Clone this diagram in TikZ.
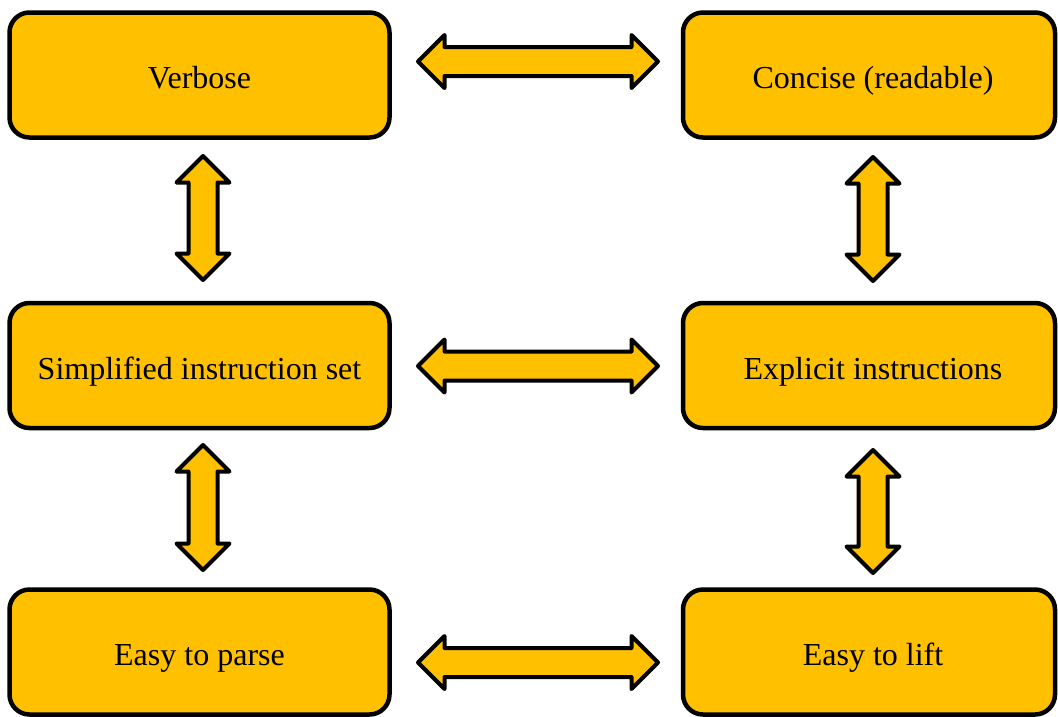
\documentclass[tikz,border=0pt]{standalone}
\usepackage{fontspec}
\setmainfont{Liberation Serif}
\usetikzlibrary{shapes.arrows}
\definecolor{gold}{HTML}{FFC000}

\begin{document}
\begin{tikzpicture}[x=1pt, y=-1pt,
  box/.style={draw, line width=4.5pt, fill=gold, rounded corners=20pt,
    minimum height=125pt, inner sep=0pt, text height=31pt, text depth=4pt,
    font=\fontsize{32}{38}\selectfont},
  leftbox/.style={box, minimum width=380pt},
  rightbox/.style={box, minimum width=372pt},
  link/.style={draw, line width=4pt, fill=gold, line join=round,
    double arrow, double arrow tip angle=90, double arrow head extend=12pt,
    inner xsep=0pt, inner ysep=12.5pt},
]
\useasboundingbox (0,0) rectangle (1058,716);

% statement boxes (right-hand labels sit a little right of centre)
\node[leftbox]  (v) at (199.5,75)    {Verbose};
\node[rightbox] (c) at (869,75)      {\hspace*{8pt}Concise (readable)};
\node[leftbox]  (s) at (199.5,365.5) {Simplified instruction set};
\node[rightbox] (e) at (869,365.5)   {\hspace*{8pt}Explicit instructions};
\node[leftbox]  (p) at (199.5,652)   {Easy to parse};
\node[rightbox] (l) at (869,652)     {\hspace*{8pt}Easy to lift};

% two-way block arrows between the boxes
\node[link, minimum height=240pt] (vc) at (538,61.5)  {};
\node[link, minimum height=240pt] (se) at (538,366)   {};
\node[link, minimum height=240pt] (pl) at (538,662.5) {};
\node[link, minimum height=124pt, rotate=90] (vs) at (203,218)   {};
\node[link, minimum height=124pt, rotate=90] (ce) at (873,219)   {};
\node[link, minimum height=125pt, rotate=90] (sp) at (203,507.5) {};
\node[link, minimum height=123pt, rotate=90] (el) at (873,511.5) {};
\end{tikzpicture}
\end{document}
